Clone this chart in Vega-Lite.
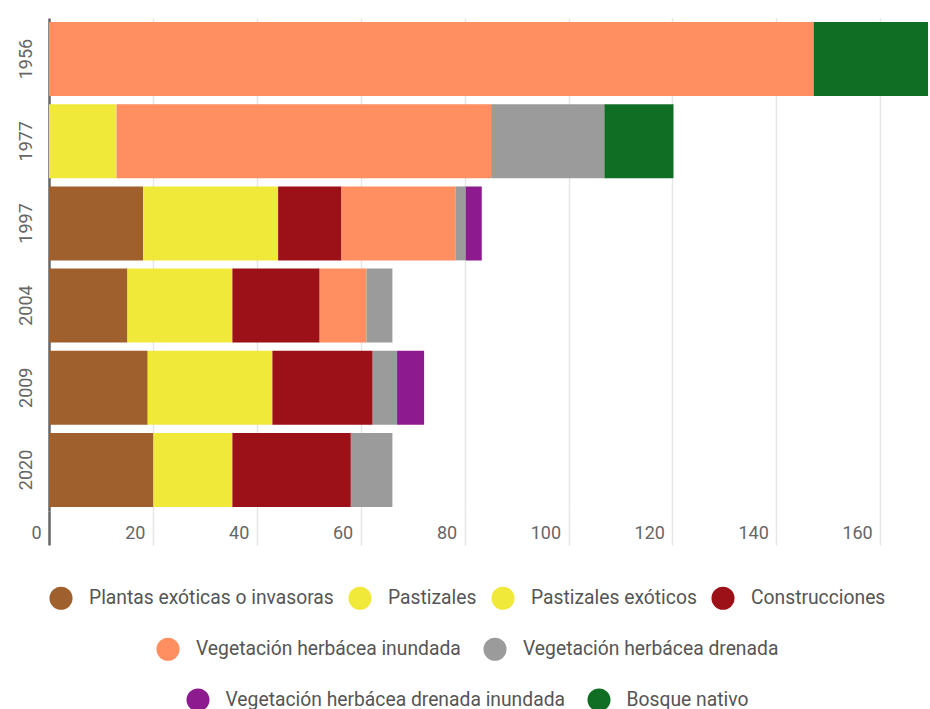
{
  "$schema": "https://vega.github.io/schema/vega-lite/v6.json",
  "width": 878,
  "height": 493,
  "padding": {"left": 17, "top": 18, "right": 0, "bottom": 0},
  "background": "white",
  "config": {
    "view": {"stroke": null},
    "font": "Roboto",
    "legend": {
      "orient": "bottom",
      "direction": "horizontal",
      "offset": 39,
      "title": null,
      "labelFont": "Roboto",
      "labelFontSize": 19.3,
      "labelColor": "#555555",
      "labelLimit": 0,
      "labelOffset": 16,
      "columnPadding": 16,
      "symbolType": "circle",
      "symbolSize": 530,
      "symbolOpacity": 1,
      "symbolStrokeWidth": 0,
      "layout": {"bottom": {"anchor": "start", "direction": "vertical", "center": true, "margin": 27}}
    }
  },
  "data": {
    "values": [
      {"year": "1956", "cat": "Vegetación herbácea inundada", "value": 147.2},
      {"year": "1956", "cat": "Bosque nativo", "value": 22.0},
      {"year": "1977", "cat": "Pastizales", "value": 13.0},
      {"year": "1977", "cat": "Vegetación herbácea inundada", "value": 72.1},
      {"year": "1977", "cat": "Vegetación herbácea drenada", "value": 21.8},
      {"year": "1977", "cat": "Bosque nativo", "value": 13.3},
      {"year": "1997", "cat": "Plantas exóticas o invasoras", "value": 18.1},
      {"year": "1997", "cat": "Pastizales exóticos", "value": 26.0},
      {"year": "1997", "cat": "Construcciones", "value": 12.2},
      {"year": "1997", "cat": "Vegetación herbácea inundada", "value": 22.0},
      {"year": "1997", "cat": "Vegetación herbácea drenada", "value": 1.9},
      {"year": "1997", "cat": "Vegetación herbácea drenada inundada", "value": 3.1},
      {"year": "2004", "cat": "Plantas exóticas o invasoras", "value": 15.1},
      {"year": "2004", "cat": "Pastizales exóticos", "value": 20.2},
      {"year": "2004", "cat": "Construcciones", "value": 16.8},
      {"year": "2004", "cat": "Vegetación herbácea inundada", "value": 9.0},
      {"year": "2004", "cat": "Vegetación herbácea drenada", "value": 5.0},
      {"year": "2009", "cat": "Plantas exóticas o invasoras", "value": 19.0},
      {"year": "2009", "cat": "Pastizales exóticos", "value": 24.0},
      {"year": "2009", "cat": "Construcciones", "value": 19.3},
      {"year": "2009", "cat": "Vegetación herbácea drenada", "value": 4.7},
      {"year": "2009", "cat": "Vegetación herbácea drenada inundada", "value": 5.2},
      {"year": "2020", "cat": "Plantas exóticas o invasoras", "value": 20.1},
      {"year": "2020", "cat": "Pastizales exóticos", "value": 15.2},
      {"year": "2020", "cat": "Construcciones", "value": 22.8},
      {"year": "2020", "cat": "Vegetación herbácea drenada", "value": 8.0}
    ]
  },
  "layer": [
    {
      "transform": [
        {"calculate": "indexof(['Plantas exóticas o invasoras','Pastizales','Pastizales exóticos','Construcciones','Vegetación herbácea inundada','Vegetación herbácea drenada','Vegetación herbácea drenada inundada','Bosque nativo'], datum.cat)", "as": "ord"}
      ],
      "mark": {"type": "bar"},
      "encoding": {
        "y": {
          "field": "year", "type": "ordinal",
          "sort": ["1956", "1977", "1997", "2004", "2009", "2020"],
          "scale": {"paddingInner": 0.1, "paddingOuter": 0.05},
          "axis": {
            "title": null, "ticks": false, "domain": true,
            "domainColor": "#666666", "domainWidth": 2.5,
            "labelAngle": 270, "labelAlign": "center", "labelBaseline": "bottom",
            "labelPadding": 14, "labelFont": "Roboto", "labelFontSize": 18, "labelColor": "#666666"
          }
        },
        "x": {
          "field": "value", "type": "quantitative", "stack": "zero",
          "scale": {"domain": [0, 169], "nice": false},
          "axis": {
            "title": null,
            "values": [0, 20, 40, 60, 80, 100, 120, 140, 160],
            "grid": true, "gridColor": "#e6e6e6", "gridWidth": 1.5,
            "domain": false, "ticks": true, "tickSize": 34,
            "tickColor": {"condition": {"test": "datum.value === 0", "value": "#666666"}, "value": "#e6e6e6"},
            "tickWidth": {"condition": {"test": "datum.value === 0", "value": 2.5}, "value": 1.5},
            "labelAlign": "right", "labelOffset": -8, "labelBaseline": "middle", "labelPadding": -12,
            "labelFont": "Roboto", "labelFontSize": 18, "labelColor": "#666666"
          }
        },
        "color": {
          "field": "cat", "type": "nominal",
          "scale": {
            "domain": ["Plantas exóticas o invasoras", "Pastizales", "Pastizales exóticos", "Construcciones", "Vegetación herbácea inundada", "Vegetación herbácea drenada", "Vegetación herbácea drenada inundada", "Bosque nativo"],
            "range": ["#a0602e", "#f1e93a", "#f1e93a", "#9c1018", "#ff8f60", "#9b9b9b", "#8e1a8f", "#0f6e24"]
          },
          "legend": {"values": ["Plantas exóticas o invasoras", "Pastizales", "Pastizales exóticos", "Construcciones"], "columnPadding": 14}
        },
        "order": {"field": "ord", "type": "quantitative"}
      }
    },
    {
      "transform": [{"filter": {"field": "cat", "oneOf": ["Vegetación herbácea inundada", "Vegetación herbácea drenada"]}}],
      "mark": {"type": "point", "filled": true, "opacity": 0},
      "encoding": {
        "y": {"field": "year", "type": "ordinal"},
        "x": {"field": "value", "type": "quantitative"},
        "fill": {
          "field": "cat", "type": "nominal",
          "scale": {"domain": ["Vegetación herbácea inundada", "Vegetación herbácea drenada"], "range": ["#ff8f60", "#9b9b9b"]},
          "legend": {"symbolOpacity": 1, "symbolSize": 530, "columnPadding": 22}
        }
      }
    },
    {
      "transform": [{"filter": {"field": "cat", "oneOf": ["Vegetación herbácea drenada inundada", "Bosque nativo"]}}],
      "mark": {"type": "point", "filled": false, "opacity": 0},
      "encoding": {
        "y": {"field": "year", "type": "ordinal"},
        "x": {"field": "value", "type": "quantitative"},
        "stroke": {
          "field": "cat", "type": "nominal",
          "scale": {"domain": ["Vegetación herbácea drenada inundada", "Bosque nativo"], "range": ["#8e1a8f", "#0f6e24"]},
          "legend": {"symbolOpacity": 1, "symbolSize": 132, "symbolStrokeWidth": 11.5, "symbolFillColor": "transparent", "columnPadding": 4}
        }
      }
    }
  ]
}
